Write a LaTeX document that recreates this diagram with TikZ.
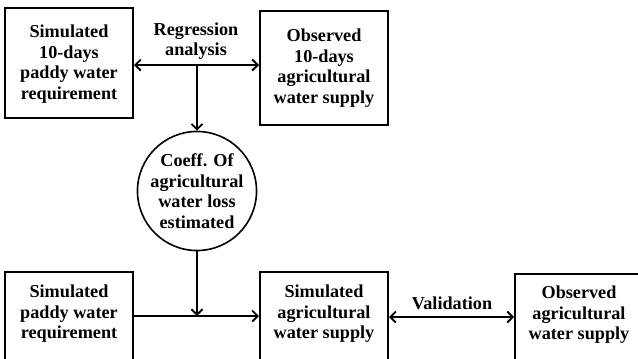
\documentclass[tikz,border=0pt]{standalone}
\usepackage{fontspec}
\setmainfont{Liberation Serif}
\usetikzlibrary{arrows.meta,calc}
\begin{document}
\begin{tikzpicture}[x=1pt,y=-1pt,
  box/.style={draw,line width=2pt,minimum width=128pt,inner sep=0pt},
  txt/.style={align=center,font=\fontsize{18.2}{20.5}\selectfont\bfseries,inner sep=0pt},
  circ/.style={draw,circle,line width=1.6pt,minimum size=104pt,inner sep=0pt,align=center,font=\fontsize{18.2}{20.5}\selectfont\bfseries},
  conn/.style={line width=2pt,arrows={Straight Barb[length=5.5pt,width=11pt,line width=1.8pt]-Straight Barb[length=5.5pt,width=11pt,line width=1.8pt]}},
  arr/.style={line width=2pt,-{Straight Barb[length=5.5pt,width=11pt,line width=1.8pt]}}]
\useasboundingbox (0,0) rectangle (638,359);
\clip (0,0) rectangle (638,359);
\fill[white] (0,0) rectangle (638,359);
% top row
\node[box,minimum height=110pt] (b1) at (69,63) {};
\node[txt] (t1) at (69,64) {Simulated\\10-days\\paddy water\\requirement};
\node[box,minimum height=114pt] (b2) at (324,68) {};
\node[txt] (t2) at (324,68) {Observed\\10-days\\agricultural\\water supply};
\node[txt] (reg) at (196,41) {Regression\\analysis};
% circle
\node[circ] (c) at (197,191) {Coeff. Of\\agricultural\\water loss\\estimated};
% bottom row
\node[box,minimum height=110pt,anchor=north] (b3) at (69,271) {};
\node[txt] (t3) at (69,314) {Simulated\\paddy water\\requirement};
\node[box,minimum height=110pt,anchor=north] (b4) at (324,271) {};
\node[txt] (t4) at (324,314) {Simulated\\agricultural\\water supply};
\node[box,minimum height=110pt,anchor=north] (b5) at (579,273) {};
\node[txt] (t5) at (579,315) {Observed\\agricultural\\water supply};
\node[txt] (val) at (452,303) {Validation};
% junctions
\coordinate (j1) at (197,65);
\coordinate (j2) at (197,316);
\coordinate (v) at (452,317);
% connectors
\draw[conn] (b1.east |- j1) -- (b2.west |- j1);
\draw[arr] (j1) -- (c.north);
\draw[arr] (b3.east |- j2) -- (b4.west |- j2);
\draw[arr] (c.south) -- (j2);
\draw[conn] (b4.east |- v) -- (b5.west |- v);
\end{tikzpicture}
\end{document}
